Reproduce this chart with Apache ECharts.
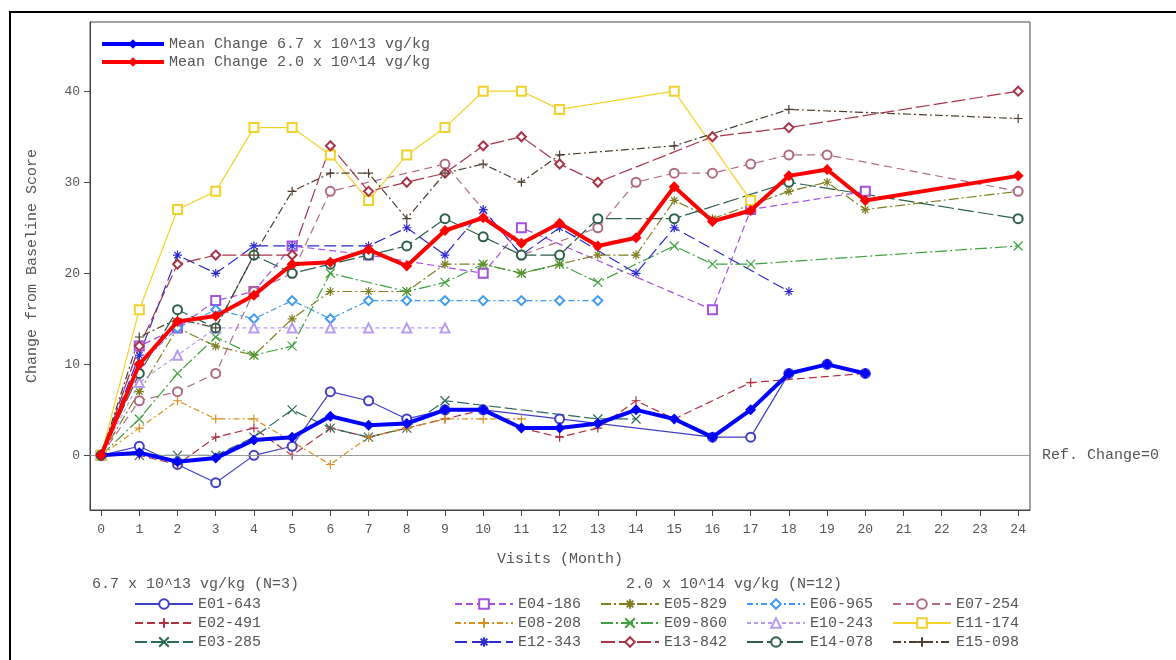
<!DOCTYPE html>
<html><head><meta charset="utf-8">
<script src="https://cdn.jsdelivr.net/npm/echarts@6/dist/echarts.min.js"></script>
<style>html,body{margin:0;padding:0;background:#fff}#c{width:1176px;height:660px}</style>
</head><body><div id="c"></div>
<script>
const n = null;
const visits = [0,1,2,3,4,5,6,7,8,9,10,11,12,13,14,15,16,17,18,19,20,21,22,23,24];
const yTicks = [0,10,20,30,40];
// 6.7 x 10^13 vg/kg group
const E01_643 = [0,1,-1,-3,0,1,7,6,4,5,5,n,4,n,n,n,2,2,9,10,9,n,n,n,n];
const E02_491 = [0,0,-1,2,3,0,3,2,3,4,5,3,2,3,6,4,n,8,n,n,9,n,n,n,n];
const E03_285 = [0,0,0,0,2,5,3,2,3,6,n,n,n,4,4,n,n,n,n,n,n,n,n,n,n];
const mean_low = [0,0.3,-0.7,-0.3,1.7,2,4.3,3.3,3.5,5,5,3,3,3.5,5,4,2,5,9,10,9,n,n,n,n];
// 2.0 x 10^14 vg/kg group
const E04_186 = [0,12,14,17,18,23,n,22,n,n,20,25,n,n,n,n,16,27,n,n,29,n,n,n,n];
const E05_829 = [0,7,14,12,11,15,18,18,18,21,21,20,21,22,22,28,26,n,29,30,27,n,n,n,29];
const E06_965 = [0,10,14,16,15,17,15,17,17,17,17,17,17,17,n,n,n,n,n,n,n,n,n,n,n];
const E07_254 = [0,6,7,9,18,20,29,n,n,32,n,22,n,25,30,31,31,32,33,33,n,n,n,n,29];
const E08_208 = [0,3,6,4,4,n,-1,2,3,4,4,4,n,n,n,n,n,n,n,n,n,n,n,n,n];
const E09_860 = [0,4,9,13,11,12,20,n,18,19,21,20,21,19,n,23,21,21,n,n,n,n,n,n,23];
const E10_243 = [0,8,11,14,14,14,14,14,14,14,n,n,n,n,n,n,n,n,n,n,n,n,n,n,n];
const E11_174 = [0,16,27,29,36,36,33,28,33,36,40,40,38,n,n,40,n,28,n,n,n,n,n,n,n];
const E12_343 = [0,11,22,20,23,23,n,23,25,22,27,22,25,n,20,25,n,n,18,n,n,n,n,n,n];
const E13_842 = [0,12,21,22,22,22,34,29,30,31,34,35,32,30,n,n,35,n,36,n,n,n,n,n,40];
const E14_078 = [0,9,16,14,22,20,21,22,23,26,24,22,22,26,n,26,n,n,30,n,n,n,n,n,26];
const E15_098 = [0,13,15,14,22,29,31,31,26,31,32,30,33,n,n,34,n,n,38,n,n,n,n,n,37];
const mean_high = [0,10,14.7,15.3,17.6,21,21.2,22.6,20.8,24.7,26.1,23.3,25.5,23,23.9,29.5,25.7,26.9,30.7,31.4,28,n,n,n,30.7];

const MONO = '"Liberation Mono","DejaVu Sans Mono",monospace';
const TXT = '#555';
const SYM = {
  plus: 'path://M5,0L5,10M0,5L10,5',
  cross: 'path://M0,0L10,10M0,10L10,0',
  star: 'path://M5,0L5,10M0,5L10,5M1.5,1.5L8.5,8.5M1.5,8.5L8.5,1.5'
};
const subjects = [
  {name:'E01-643', v:E01_643, c:'#3F3FC8', t:'solid',        s:'emptyCircle'},
  {name:'E02-491', v:E02_491, c:'#B03040', t:[8,4],          s:SYM.plus},
  {name:'E03-285', v:E03_285, c:'#2C6A5A', t:[12,4],         s:SYM.cross},
  {name:'E04-186', v:E04_186, c:'#A451E0', t:[7,4],          s:'emptyRect'},
  {name:'E05-829', v:E05_829, c:'#7F7F20', t:[10,3,2,3],     s:SYM.star},
  {name:'E06-965', v:E06_965, c:'#3E9BF0', t:[6,3,2,3],      s:'emptyDiamond'},
  {name:'E07-254', v:E07_254, c:'#B06A86', t:[8,5],          s:'emptyCircle'},
  {name:'E08-208', v:E08_208, c:'#D9901E', t:[6,3,2,3],      s:SYM.plus},
  {name:'E09-860', v:E09_860, c:'#3FA03F', t:[12,3,2,3],     s:SYM.cross},
  {name:'E10-243', v:E10_243, c:'#B69BF0', t:[4,3],          s:'emptyTriangle'},
  {name:'E11-174', v:E11_174, c:'#F2D22A', t:'solid',        s:'emptyRect'},
  {name:'E12-343', v:E12_343, c:'#2B2BD0', t:[12,5],         s:SYM.star},
  {name:'E13-842', v:E13_842, c:'#A83448', t:[14,4],         s:'emptyDiamond'},
  {name:'E14-078', v:E14_078, c:'#2D5F4A', t:[16,4],         s:'emptyCircle'},
  {name:'E15-098', v:E15_098, c:'#4F3F2F', t:[8,3,2,3],      s:SYM.plus}
];
const MEAN_LOW = 'Mean Change 6.7 x 10^13 vg/kg';
const MEAN_HIGH = 'Mean Change 2.0 x 10^14 vg/kg';

function pairs(vals){ return visits.map((m,i)=>[m, vals[i]]).filter(p=>p[1]!==null); }

const series = subjects.map((s,i)=>({
  type:'line', name:s.name, data:pairs(s.v), symbol:s.s, symbolSize:9,
  lineStyle:{color:s.c, width:1.2, type:s.t},
  itemStyle:{color:s.c, borderColor:s.c, borderWidth:1.2},
  emphasis:{disabled:true}, z:2, animation:false
}));
series[0].markLine = {
  silent:true, symbol:['none','none'], animation:false,
  lineStyle:{color:'#9a9a9a', width:1, type:'solid'},
  label:{show:true, position:'end', formatter:'Ref. Change=0', distance:12, color:TXT, fontFamily:MONO, fontSize:15},
  data:[{yAxis:0}]
};
series.push({
  type:'line', name:MEAN_LOW, data:pairs(mean_low), symbol:'diamond', symbolSize:11,
  lineStyle:{color:'#0000FF', width:4}, itemStyle:{color:'#0000FF'}, emphasis:{disabled:true}, z:5, animation:false
});
series.push({
  type:'line', name:MEAN_HIGH, data:pairs(mean_high), symbol:'diamond', symbolSize:11,
  lineStyle:{color:'#FF0000', width:4}, itemStyle:{color:'#FF0000'}, emphasis:{disabled:true}, z:5, animation:false
});

const legTxt = {fontFamily:MONO, fontSize:15, color:TXT, lineHeight:16};
function leg(names, left, top){
  return {data:names, left:left, top:top, orient:'vertical', itemWidth:58, itemHeight:12, itemGap:3,
          textStyle:legTxt, selectedMode:false, padding:0};
}

const chart = echarts.init(document.getElementById('c'));
chart.setOption({
  animation:false,
  backgroundColor:'#fff',
  grid:{left:90, right:146, top:22, bottom:150, show:true, borderColor:'#444', borderWidth:1, containLabel:false},
  xAxis:{type:'value', min:-0.29, max:24.31,
    name:'Visits (Month)', nameLocation:'middle', nameGap:42,
    nameTextStyle:{fontFamily:MONO, fontSize:15, color:TXT},
    axisLine:{show:true, onZero:false, lineStyle:{color:'#444'}},
    axisTick:{show:true, length:6, customValues:visits, lineStyle:{color:'#444'}},
    axisLabel:{customValues:visits, fontFamily:MONO, fontSize:13, color:TXT, margin:13},
    splitLine:{show:false}},
  yAxis:{type:'value', min:-6, max:47.6,
    name:'Change from Baseline Score', nameLocation:'middle', nameGap:50,
    nameTextStyle:{fontFamily:MONO, fontSize:15, color:TXT},
    axisLine:{show:true, onZero:false, lineStyle:{color:'#444'}},
    axisTick:{show:true, length:6, customValues:yTicks, lineStyle:{color:'#444'}},
    axisLabel:{customValues:yTicks, fontFamily:MONO, fontSize:13, color:TXT, margin:10},
    splitLine:{show:false}},
  legend:[
    {data:[MEAN_LOW, MEAN_HIGH], left:100, top:36, orient:'vertical', itemWidth:62, itemHeight:12, itemGap:2,
     lineStyle:{width:4}, textStyle:legTxt, selectedMode:false, padding:0},
    leg(['E01-643','E02-491','E03-285'], 134, 596),
    leg(['E04-186','E08-208','E12-343'], 454, 596),
    leg(['E05-829','E09-860','E13-842'], 600, 596),
    leg(['E06-965','E10-243','E14-078'], 746, 596),
    leg(['E07-254','E11-174','E15-098'], 892, 596)
  ],
  graphic:[
    {type:'rect', silent:true, z:-10, shape:{x:10, y:12, width:1180, height:670}, style:{fill:'none', stroke:'#000', lineWidth:2}},
    {type:'text', silent:true, x:92, y:577, style:{text:'6.7 x 10^13 vg/kg (N=3)', font:'15px ' + MONO, fill:TXT}},
    {type:'text', silent:true, x:626, y:577, style:{text:'2.0 x 10^14 vg/kg (N=12)', font:'15px ' + MONO, fill:TXT}}
  ],
  series:series
});
</script>
</body></html>
